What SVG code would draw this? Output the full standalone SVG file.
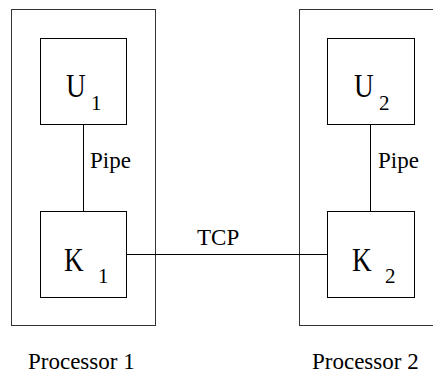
<svg xmlns="http://www.w3.org/2000/svg" width="433" height="374" viewBox="0 0 433 374" font-family="'Liberation Serif', serif">
<rect width="433" height="374" fill="#fff"/>
<g id="processor1">
<rect x="11.5" y="9.5" width="144" height="316" fill="none" stroke="#333" stroke-width="1"/>
<text font-family="'Liberation Serif', serif" font-size="23" x="28" y="369">Processor 1</text>
</g>
<g id="processor2">
<rect x="299.5" y="9.5" width="150" height="316" fill="none" stroke="#333" stroke-width="1"/>
<text font-family="'Liberation Serif', serif" font-size="23" x="312" y="369">Processor 2</text>
</g>
<g id="connectors" stroke="#000" stroke-width="1">
<line x1="83.5" y1="124.5" x2="83.5" y2="211.5"/>
<line x1="370.5" y1="124.5" x2="370.5" y2="211.5"/>
<line x1="126.5" y1="254.5" x2="327.5" y2="254.5"/>
</g>
<text font-family="'Liberation Serif', serif" font-size="23" x="90" y="168">Pipe</text>
<text font-family="'Liberation Serif', serif" font-size="23" x="378" y="168">Pipe</text>
<text font-family="'Liberation Serif', serif" font-size="23" x="197" y="245">TCP</text>
<g id="U1">
<rect x="40.5" y="38.5" width="86" height="86" fill="#fff" stroke="#000"/>
<text font-family="'Liberation Serif', serif" font-size="31" transform="translate(66,97) scale(0.88,1.1)">U</text>
<text font-family="'Liberation Serif', serif" font-size="21" x="91" y="110">1</text>
</g>
<g id="K1">
<rect x="40.5" y="211.5" width="86" height="86" fill="#fff" stroke="#000"/>
<text font-family="'Liberation Serif', serif" font-size="31" transform="translate(64,271) scale(0.88,1.1)">K</text>
<text font-family="'Liberation Serif', serif" font-size="21" x="98" y="283">1</text>
</g>
<g id="U2">
<rect x="327.5" y="38.5" width="87" height="86" fill="#fff" stroke="#000"/>
<text font-family="'Liberation Serif', serif" font-size="31" transform="translate(354,97) scale(0.88,1.1)">U</text>
<text font-family="'Liberation Serif', serif" font-size="21" x="379" y="110">2</text>
</g>
<g id="K2">
<rect x="327.5" y="211.5" width="87" height="86" fill="#fff" stroke="#000"/>
<text font-family="'Liberation Serif', serif" font-size="31" transform="translate(352,271) scale(0.88,1.1)">K</text>
<text font-family="'Liberation Serif', serif" font-size="21" x="385" y="283">2</text>
</g>
</svg>
